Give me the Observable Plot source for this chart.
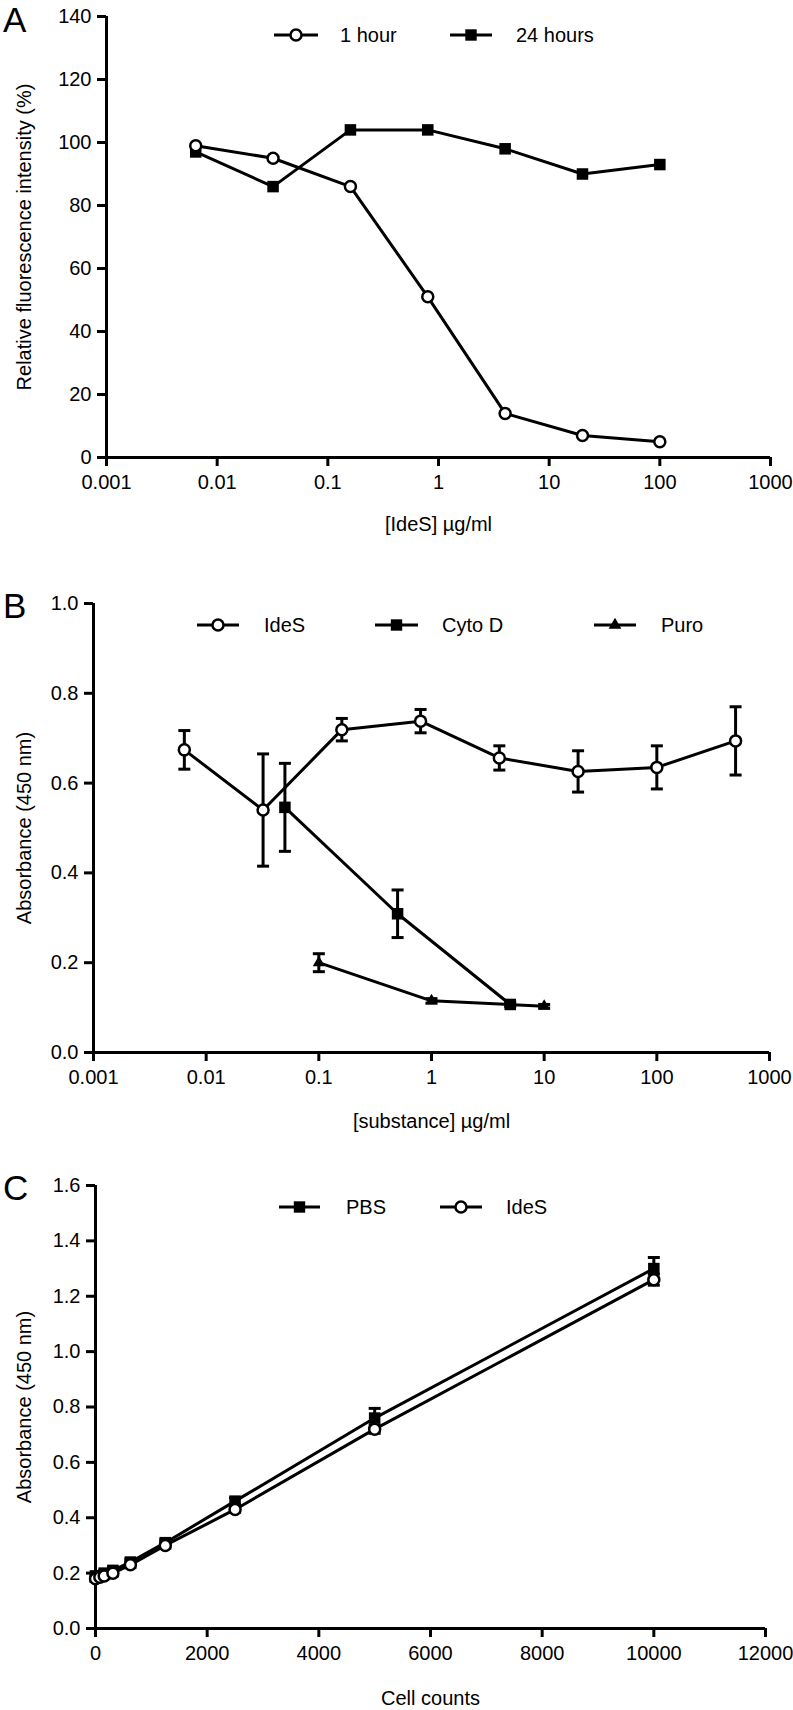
<!DOCTYPE html>
<html><head><meta charset="utf-8">
<script src="https://cdn.jsdelivr.net/npm/d3@7"></script>
<script src="https://cdn.jsdelivr.net/npm/@observablehq/plot@0.6"></script>
<style>
body{margin:0;background:#fff;}
#wrap{position:relative;width:793px;height:1710px;overflow:hidden;}
#wrap svg{position:absolute;left:0;}
</style></head><body><div id="wrap"></div>
<script>
// ---------- Panel A data ----------
const concA = [0.0064, 0.032, 0.16, 0.8, 4, 20, 100];
const oneHour = [99, 95, 86, 51, 14, 7, 5];
const twentyFourHours = [97, 86, 104, 104, 98, 90, 93];
const logTicks = [0.001, 0.01, 0.1, 1, 10, 100, 1000];
const logTickLabels = ["0.001", "0.01", "0.1", "1", "10", "100", "1000"];
const yTicksA = [0, 20, 40, 60, 80, 100, 120, 140];

// ---------- Panel B data ----------
const concIdeS = [0.0064, 0.032, 0.16, 0.8, 4, 20, 100, 500];
const ideSB = [0.674, 0.540, 0.719, 0.738, 0.656, 0.626, 0.635, 0.694];
const ideSBErr = [0.043, 0.125, 0.025, 0.026, 0.027, 0.046, 0.048, 0.076];
const concCyto = [0.05, 0.5, 5];
const cytoD = [0.546, 0.309, 0.107];
const cytoDErr = [0.098, 0.053, 0.005];
const concPuro = [0.1, 1, 10];
const puro = [0.200, 0.115, 0.103];
const puroErr = [0.020, 0.005, 0.004];
const yTicksB = [0, 0.2, 0.4, 0.6, 0.8, 1.0];

// ---------- Panel C data ----------
const cellCounts = [0, 78, 156, 312, 625, 1250, 2500, 5000, 10000];
const pbs = [0.19, 0.19, 0.20, 0.21, 0.24, 0.31, 0.46, 0.76, 1.30];
const pbsErr = [0.01, 0.01, 0.01, 0.01, 0.01, 0.01, 0.012, 0.035, 0.04];
const ideSC = [0.18, 0.185, 0.19, 0.20, 0.23, 0.30, 0.43, 0.72, 1.26];
const ideSCErr = [0.01, 0.01, 0.01, 0.01, 0.01, 0.01, 0.01, 0.015, 0.02];
const xTicksC = [0, 2000, 4000, 6000, 8000, 10000, 12000];
const yTicksC = [0, 0.2, 0.4, 0.6, 0.8, 1.0, 1.2, 1.4, 1.6];

// ---------- helpers ----------
const FONT = '"Liberation Sans", Arial, sans-serif';
const capSymbol = {draw(ctx) { ctx.moveTo(-6, 0); ctx.lineTo(6, 0); }};
const rows = (xs, ys, es) => xs.map((x, i) => ({x, y: ys[i], e: es ? es[i] : 0}));
const logFmt = d => logTickLabels[logTicks.indexOf(d)];
const style = {fontFamily: FONT, fontSize: "20px", color: "black", background: "white", overflow: "visible"};

function errMarks(data) {
  return [
    Plot.ruleX(data, {x: "x", y1: d => d.y - d.e, y2: d => d.y + d.e, strokeWidth: 3}),
    Plot.dot(data, {x: "x", y: d => d.y + d.e, symbol: capSymbol, stroke: "black", strokeWidth: 3}),
    Plot.dot(data, {x: "x", y: d => d.y - d.e, symbol: capSymbol, stroke: "black", strokeWidth: 3})
  ];
}

function addLegend(svg, y, items) {
  const g = d3.select(svg).append("g").attr("text-anchor", "start");
  for (const it of items) {
    g.append("line").attr("x1", it.x1).attr("x2", it.x2).attr("y1", y).attr("y2", y)
      .attr("stroke", "black").attr("stroke-width", 3);
    const cx = (it.x1 + it.x2) / 2;
    if (it.sym === "circle") {
      g.append("circle").attr("cx", cx).attr("cy", y).attr("r", 5.5)
        .attr("fill", "white").attr("stroke", "black").attr("stroke-width", 2.5);
    } else {
      g.append("path").attr("transform", `translate(${cx},${y})`)
        .attr("d", d3.symbol(it.sym === "square" ? d3.symbolSquare : d3.symbolTriangle, it.sym === "square" ? 130 : 70)())
        .attr("fill", "black");
    }
    g.append("text").attr("x", it.tx).attr("y", y).attr("dy", "0.36em").attr("text-anchor", "start")
      .attr("font-family", FONT).attr("font-size", 20).attr("fill", "black").text(it.label);
  }
}
function addLetter(svg, letter, y) {
  d3.select(svg).append("text").attr("x", 3).attr("y", y).attr("text-anchor", "start")
    .attr("font-family", FONT).attr("font-size", 35).attr("fill", "black").text(letter);
}

const wrap = document.getElementById("wrap");

// ---------- Panel A ----------
const a1 = rows(concA, oneHour);
const a24 = rows(concA, twentyFourHours);
const svgA = Plot.plot({
  width: 793, height: 560, marginTop: 16, marginBottom: 103, marginLeft: 106, marginRight: 23,
  style,
  x: {type: "log", domain: [0.001, 1000]},
  y: {domain: [0, 140]},
  marks: [
    Plot.axisY({ticks: yTicksA, tickSize: 9, tickPadding: 6, strokeWidth: 3,
      label: "Relative fluorescence intensity (%)", labelAnchor: "center", labelArrow: "none", labelOffset: 90}),
    Plot.axisX({ticks: logTicks, tickFormat: logFmt, tickSize: 9, tickPadding: 8, strokeWidth: 3,
      label: "[IdeS] µg/ml", labelAnchor: "center", labelArrow: "none", labelOffset: 73}),
    Plot.ruleY([0], {strokeWidth: 3}),
    Plot.ruleX([0.001], {strokeWidth: 3}),
    Plot.line(a24, {x: "x", y: "y", strokeWidth: 3}),
    Plot.dot(a24, {x: "x", y: "y", symbol: "square", fill: "black", r: 6.5}),
    Plot.line(a1, {x: "x", y: "y", strokeWidth: 3}),
    Plot.dot(a1, {x: "x", y: "y", fill: "white", stroke: "black", strokeWidth: 2.5, r: 5.5})
  ]
});
svgA.style.top = "0px";
addLegend(svgA, 35, [
  {x1: 274, x2: 318, sym: "circle", tx: 340, label: "1 hour"},
  {x1: 450, x2: 492, sym: "square", tx: 516, label: "24 hours"}
]);
addLetter(svgA, "A", 32);
wrap.appendChild(svgA);

// ---------- Panel B ----------
const bI = rows(concIdeS, ideSB, ideSBErr);
const bC = rows(concCyto, cytoD, cytoDErr);
const bP = rows(concPuro, puro, puroErr);
const svgB = Plot.plot({
  width: 793, height: 580, marginTop: 43, marginBottom: 88, marginLeft: 93, marginRight: 24,
  style,
  x: {type: "log", domain: [0.001, 1000]},
  y: {domain: [0, 1]},
  marks: [
    Plot.axisY({ticks: yTicksB, tickFormat: d3.format(".1f"), tickSize: 9, tickPadding: 6, strokeWidth: 3,
      label: "Absorbance (450 nm)", labelAnchor: "center", labelArrow: "none", labelOffset: 77}),
    Plot.axisX({ticks: logTicks, tickFormat: logFmt, tickSize: 9, tickPadding: 8, strokeWidth: 3,
      label: "[substance] µg/ml", labelAnchor: "center", labelArrow: "none", labelOffset: 75}),
    Plot.ruleY([0], {strokeWidth: 3}),
    Plot.ruleX([0.001], {strokeWidth: 3}),
    ...errMarks(bP),
    Plot.line(bP, {x: "x", y: "y", strokeWidth: 3}),
    Plot.dot(bP, {x: "x", y: "y", symbol: "triangle", fill: "black", r: 4.5}),
    ...errMarks(bC),
    Plot.line(bC, {x: "x", y: "y", strokeWidth: 3}),
    Plot.dot(bC, {x: "x", y: "y", symbol: "square", fill: "black", r: 6.5}),
    ...errMarks(bI),
    Plot.line(bI, {x: "x", y: "y", strokeWidth: 3}),
    Plot.dot(bI, {x: "x", y: "y", fill: "white", stroke: "black", strokeWidth: 2.5, r: 5.5})
  ]
});
svgB.style.top = "560px";
addLegend(svgB, 65, [
  {x1: 197, x2: 239, sym: "circle", tx: 264, label: "IdeS"},
  {x1: 375, x2: 418, sym: "square", tx: 442, label: "Cyto D"},
  {x1: 594, x2: 636, sym: "triangle", tx: 661, label: "Puro"}
]);
addLetter(svgB, "B", 58);
wrap.appendChild(svgB);

// ---------- Panel C ----------
const cP = rows(cellCounts, pbs, pbsErr);
const cI = rows(cellCounts, ideSC, ideSCErr);
const svgC = Plot.plot({
  width: 793, height: 570, marginTop: 45, marginBottom: 82, marginLeft: 95, marginRight: 28,
  style,
  x: {domain: [0, 12000]},
  y: {domain: [0, 1.6]},
  marks: [
    Plot.axisY({ticks: yTicksC, tickFormat: d3.format(".1f"), tickSize: 9, tickPadding: 6, strokeWidth: 3,
      label: "Absorbance (450 nm)", labelAnchor: "center", labelArrow: "none", labelOffset: 79}),
    Plot.axisX({ticks: xTicksC, tickFormat: d => String(d), tickSize: 9, tickPadding: 8, strokeWidth: 3,
      label: "Cell counts", labelAnchor: "center", labelArrow: "none", labelOffset: 76}),
    Plot.ruleY([0], {strokeWidth: 3}),
    Plot.ruleX([0], {strokeWidth: 3}),
    ...errMarks(cP),
    Plot.line(cP, {x: "x", y: "y", strokeWidth: 3}),
    Plot.dot(cP, {x: "x", y: "y", symbol: "square", fill: "black", r: 6.5}),
    ...errMarks(cI),
    Plot.line(cI, {x: "x", y: "y", strokeWidth: 3}),
    Plot.dot(cI, {x: "x", y: "y", fill: "white", stroke: "black", strokeWidth: 2.5, r: 5.5})
  ]
});
svgC.style.top = "1140px";
addLegend(svgC, 67, [
  {x1: 279, x2: 320, sym: "square", tx: 346, label: "PBS"},
  {x1: 440, x2: 482, sym: "circle", tx: 506, label: "IdeS"}
]);
addLetter(svgC, "C", 60);
wrap.appendChild(svgC);
</script></body></html>
